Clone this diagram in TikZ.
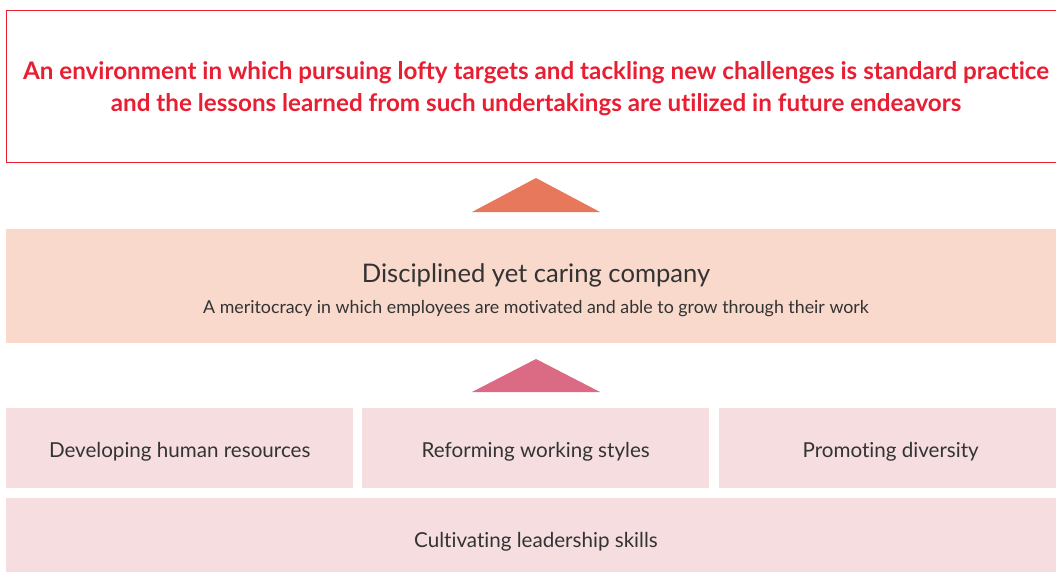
\documentclass[tikz,border=0pt]{standalone}
\usepackage{fontspec}
\setmainfont{Lato}[Ligatures=NoCommon]
\definecolor{topred}{RGB}{232,30,50}
\definecolor{orangetri}{RGB}{232,120,92}
\definecolor{peach}{RGB}{248,217,203}
\definecolor{rosetri}{RGB}{219,107,132}
\definecolor{pinkbox}{RGB}{245,221,224}
\definecolor{darktext}{RGB}{51,51,51}
\begin{document}
\begin{tikzpicture}[x=1pt,y=-1pt,
  panel/.style={fill=#1, draw=none, inner sep=0pt, anchor=north west},
  pillar/.style={panel=pinkbox, minimum height=80pt},
  label/.style={text=darktext, inner sep=0pt, font=\fontsize{20.6}{24}\selectfont},
  tri/.style={fill=#1, draw=none}]
\useasboundingbox (0,0) rectangle (1056,572);
\fill[white] (0,0) rectangle (1056,572);
% goal frame
\node[panel=white, minimum width=1050pt, minimum height=151pt] (goal) at (6,11) {};
\draw[topred, line width=1pt] (goal.north east) -| (goal.south west) -- (goal.south east);
\node[text=topred, inner sep=0pt, align=center, font=\bfseries\fontsize{24.2}{32}\selectfont] (goaltext) at (536,89)
  {An environment in which pursuing lofty targets and tackling new challenges is standard practice\\
   and the lessons learned from such undertakings are utilized in future endeavors};
% arrow 1
\coordinate (t1) at (536,178);
\fill[orangetri] (472,212) -- (t1) -- (600,212) -- cycle;
% company band
\node[panel=peach, minimum width=1050pt, minimum height=114pt] (band) at (6,229) {};
\node[label, font=\fontsize{25.6}{30}\selectfont] (bandtitle) at (536,275) {Disciplined yet caring company};
\node[label, font=\fontsize{17.8}{22}\selectfont] (bandsub) at (536,309) {A meritocracy in which employees are motivated and able to grow through their work};
% arrow 2
\coordinate (t2) at (536,359);
\fill[rosetri] (472,392) -- (t2) -- (600,392) -- cycle;
% pillars
\node[pillar, minimum width=347pt] (p1) at (6,408) {};
\node[pillar, minimum width=347pt] (p2) at (362,408) {};
\node[pillar, minimum width=337pt] (p3) at (719,408) {};
\node[label] at ([yshift=-4pt]p1.center) {Developing human resources};
\node[label] at ([yshift=-4pt]p2.center) {Reforming working styles};
\node[label] at ([xshift=3pt,yshift=-4pt]p3.center) {Promoting diversity};
% base
\node[panel=pinkbox, minimum width=1050pt, minimum height=74pt] (base) at (6,498) {};
\node[label] (basetext) at (536,542) {Cultivating leadership skills};
\end{tikzpicture}
\end{document}
